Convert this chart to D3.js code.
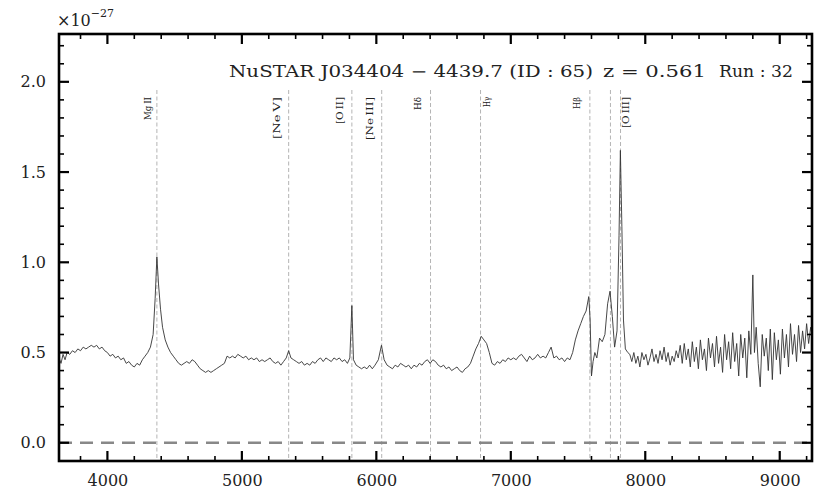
<!DOCTYPE html>
<html><head><meta charset="utf-8">
<script src="https://cdn.jsdelivr.net/npm/d3@7"></script>
<style>body{margin:0;background:#fff}</style>
</head><body><svg id="c" width="830" height="498"></svg>
<script>
// ---------- data ----------
const wavelength = [
3640,3655,3670,3685,3700,3720,3740,3760,3780,3800,
3820,3840,3860,3880,3900,3920,3940,3960,3980,4000,
4020,4040,4060,4080,4100,4120,4140,4160,4180,4200,
4220,4240,4260,4280,4300,4320,4340,4355,4368,4380,
4395,4410,4430,4450,4470,4490,4510,4530,4550,4570,
4590,4610,4630,4650,4670,4690,4710,4730,4750,4770,
4790,4810,4830,4850,4870,4890,4910,4930,4950,4970,
4990,5010,5030,5050,5070,5090,5110,5130,5150,5170,
5190,5210,5230,5250,5270,5290,5310,5330,5348,5365,
5385,5405,5425,5445,5465,5485,5505,5525,5545,5565,
5585,5605,5625,5645,5665,5685,5705,5725,5745,5765,
5785,5803,5818,5830,5850,5870,5890,5910,5930,5950,
5970,5990,6015,6038,6058,6080,6100,6120,6140,6160,
6180,6200,6220,6240,6260,6280,6300,6320,6340,6360,
6380,6400,6420,6440,6460,6480,6500,6520,6540,6560,
6580,6600,6620,6640,6660,6680,6700,6720,6740,6760,
6780,6800,6820,6840,6860,6880,6900,6920,6940,6960,
6980,7000,7020,7040,7060,7080,7100,7120,7140,7160,
7180,7200,7220,7240,7260,7280,7300,7320,7340,7360,
7380,7400,7420,7440,7460,7480,7500,7520,7540,7560,
7580,7590,7600,7612,7625,7640,7660,7680,7700,7720,
7738,7755,7772,7790,7805,7815,7826,7838,7852,7870,
7885,7900,7915,7930,7945,7960,7975,7990,8005,8020,
8035,8050,8065,8080,8095,8110,8125,8140,8155,8170,
8185,8200,8215,8230,8245,8260,8275,8290,8305,8320,
8335,8350,8365,8380,8395,8410,8425,8440,8455,8470,
8485,8500,8515,8530,8545,8560,8575,8590,8605,8620,
8635,8650,8665,8680,8695,8710,8725,8740,8755,8770,
8785,8800,8812,8825,8840,8855,8870,8885,8900,8915,
8930,8945,8960,8975,8990,9005,9020,9035,9050,9065,
9080,9095,9110,9125,9140,9155,9170,9185,9200,9215,
9230,9240
];
// flux in units of 1e-27
const flux = [
0.47,0.44,0.49,0.46,0.50,0.49,0.51,0.50,0.52,0.51,
0.53,0.52,0.53,0.54,0.53,0.54,0.52,0.53,0.51,0.50,
0.48,0.49,0.47,0.48,0.46,0.47,0.44,0.45,0.43,0.42,
0.44,0.43,0.46,0.48,0.50,0.53,0.60,0.80,1.03,0.88,
0.74,0.64,0.57,0.53,0.50,0.48,0.46,0.44,0.43,0.44,
0.45,0.44,0.46,0.45,0.43,0.41,0.40,0.39,0.40,0.39,
0.40,0.41,0.42,0.43,0.44,0.48,0.47,0.48,0.47,0.49,
0.48,0.47,0.48,0.46,0.47,0.46,0.47,0.45,0.46,0.45,
0.46,0.47,0.45,0.44,0.45,0.43,0.45,0.47,0.51,0.47,
0.46,0.45,0.44,0.45,0.43,0.44,0.43,0.45,0.44,0.46,
0.47,0.45,0.47,0.46,0.45,0.47,0.46,0.47,0.45,0.46,
0.44,0.47,0.76,0.46,0.43,0.42,0.41,0.42,0.41,0.43,
0.41,0.43,0.46,0.54,0.46,0.43,0.42,0.41,0.43,0.42,
0.44,0.43,0.42,0.43,0.41,0.43,0.42,0.44,0.43,0.45,
0.46,0.44,0.46,0.45,0.43,0.42,0.43,0.41,0.42,0.40,
0.41,0.42,0.40,0.39,0.41,0.42,0.44,0.48,0.52,0.55,
0.59,0.57,0.55,0.50,0.44,0.43,0.45,0.44,0.46,0.45,
0.47,0.46,0.47,0.46,0.48,0.49,0.47,0.45,0.48,0.46,
0.47,0.49,0.47,0.48,0.47,0.50,0.53,0.47,0.48,0.46,
0.47,0.45,0.47,0.46,0.50,0.57,0.62,0.66,0.70,0.73,
0.81,0.68,0.37,0.45,0.50,0.47,0.58,0.56,0.60,0.77,
0.84,0.70,0.53,0.62,1.15,1.62,1.20,0.68,0.52,0.50,
0.49,0.45,0.50,0.44,0.48,0.42,0.50,0.46,0.49,0.43,
0.47,0.52,0.45,0.49,0.44,0.51,0.46,0.53,0.45,0.50,
0.43,0.48,0.45,0.51,0.47,0.54,0.44,0.55,0.46,0.52,
0.42,0.56,0.45,0.53,0.41,0.57,0.46,0.52,0.40,0.58,
0.47,0.55,0.42,0.59,0.44,0.53,0.39,0.60,0.46,0.56,
0.41,0.61,0.45,0.55,0.37,0.60,0.47,0.58,0.36,0.62,
0.49,0.93,0.50,0.64,0.44,0.31,0.60,0.48,0.58,0.40,
0.63,0.35,0.61,0.46,0.57,0.38,0.63,0.47,0.60,0.42,
0.66,0.49,0.60,0.45,0.65,0.50,0.62,0.52,0.66,0.55,
0.64,0.60
];
const lineNames = ["Mg\u2009II","[Ne\u2009V]","[O\u2009II]","[Ne\u2009III]","H\u03b4","H\u03b3","H\u03b2","","[O\u2009III]"];
const lineWaves = [4368,5348,5818,6040,6403,6775,7588,7741,7816];
const labelWaves = [4302,5261,5730,5953,6310,6823,7492,null,7856];
const labelLengths = [23,42,27,43,13,10,12,0,31];
const xMajorTicks = [4000,5000,6000,7000,8000,9000];
const xMinorTicks = [3800,4200,4400,4600,4800,5200,5400,5600,5800,6200,6400,6600,6800,7200,7400,7600,7800,8200,8400,8600,8800,9200];
const yMajorTicks = [0.0,0.5,1.0,1.5,2.0];
const yMinorTicks = [-0.1,0.1,0.2,0.3,0.4,0.6,0.7,0.8,0.9,1.1,1.2,1.3,1.4,1.6,1.7,1.8,1.9,2.1,2.2];
const titleParts = ["NuSTAR J034404 \u2212 4439.7 (ID : 65)","z = 0.561","Run : 32"];

// ---------- layout ----------
const m = {l:59, t:34, r:812, b:461};
const svg = d3.select("#c");
const x = d3.scaleLinear().domain([3640,9240]).range([m.l,m.r]);
const y = d3.scaleLinear().domain([-0.101,2.265]).range([m.b,m.t]);
const FONT = "'DejaVu Serif', serif";
let status = "";
try {
  // emission line markers
  const lg = svg.append("g");
  lineWaves.forEach((w,i)=>{
    lg.append("line").attr("x1",x(w)).attr("x2",x(w)).attr("y1",90).attr("y2",m.b)
      .attr("stroke","#b4b4b4").attr("stroke-width",1).attr("stroke-dasharray","4,2.5");
    if (labelWaves[i]!==null) {
      lg.append("text")
        .attr("transform",`translate(${x(labelWaves[i])},97) rotate(-90)`)
        .attr("text-anchor","end").attr("dominant-baseline","central")
        .attr("font-family",FONT).attr("font-size",8.5).attr("fill","#222")
        .attr("textLength",labelLengths[i]).attr("lengthAdjust","spacingAndGlyphs")
        .text(lineNames[i]);
    }
  });

  // zero line
  svg.append("line").attr("x1",m.l).attr("x2",m.r).attr("y1",y(0)).attr("y2",y(0))
    .attr("stroke","#888").attr("stroke-width",2.5).attr("stroke-dasharray","13,8");

  // spectrum
  const pts = wavelength.map((w,i)=>[w,flux[i]]);
  svg.append("path").datum(pts)
    .attr("fill","none").attr("stroke","#333").attr("stroke-width",0.9)
    .attr("d", d3.line().x(d=>x(d[0])).y(d=>y(d[1])));

  // tick labels through d3 axes
  svg.append("g").attr("transform",`translate(0,${m.b})`)
    .call(d3.axisBottom(x).tickValues(xMajorTicks).tickSize(0).tickPadding(14).tickFormat(d3.format("d")))
    .call(g=>{g.select(".domain").remove(); g.selectAll("text").attr("font-family",FONT).attr("font-size",16).attr("fill","#222");});
  svg.append("g").attr("transform",`translate(${m.l},0)`)
    .call(d3.axisLeft(y).tickValues(yMajorTicks).tickSize(0).tickPadding(13).tickFormat(d3.format(".1f")))
    .call(g=>{g.select(".domain").remove(); g.selectAll("text").attr("font-family",FONT).attr("font-size",16).attr("fill","#222");});

  // exponent label
  const ex = svg.append("text").attr("x",57).attr("y",26).attr("font-family",FONT).attr("fill","#222");
  ex.append("tspan").attr("font-size",16).text("\u00d710");
  ex.append("tspan").attr("font-size",11).attr("dy",-9).text("\u221227");

  // title
  const tx = [229,603,719], tl = [364,103,74];
  titleParts.forEach((s,i)=>{
    svg.append("text").attr("x",tx[i]).attr("y",77).attr("font-family",FONT).attr("font-size",16)
      .attr("fill","#222").attr("textLength",tl[i]).attr("lengthAdjust","spacingAndGlyphs").text(s);
  });

  // frame
  svg.append("rect").attr("x",m.l).attr("y",m.t).attr("width",m.r-m.l).attr("height",m.b-m.t)
    .attr("fill","none").attr("stroke","#000").attr("stroke-width",2.6);

  // ticks (inward, mirrored on all four sides)
  const tg = svg.append("g");
  function tick(x1,y1,x2,y2,w){ tg.append("line").attr("x1",x1).attr("y1",y1).attr("x2",x2).attr("y2",y2).attr("stroke","#000").attr("stroke-width",w); }
  xMinorTicks.forEach(v=>{ tick(x(v),m.b,x(v),m.b-5,1.6); tick(x(v),m.t,x(v),m.t+5,1.6); });
  xMajorTicks.forEach(v=>{ tick(x(v),m.b,x(v),m.b-10,2.2); tick(x(v),m.t,x(v),m.t+10,2.2); });
  yMinorTicks.forEach(v=>{ tick(m.l,y(v),m.l+5,y(v),1.6); tick(m.r,y(v),m.r-5,y(v),1.6); });
  yMajorTicks.forEach(v=>{ tick(m.l,y(v),m.l+10,y(v),2.2); tick(m.r,y(v),m.r-10,y(v),2.2); });
} catch(e) { status = "ERR " + e.message; }
if (status) svg.append("text").attr("x",300).attr("y",250).attr("fill","red").text(status);
</script></body></html>
